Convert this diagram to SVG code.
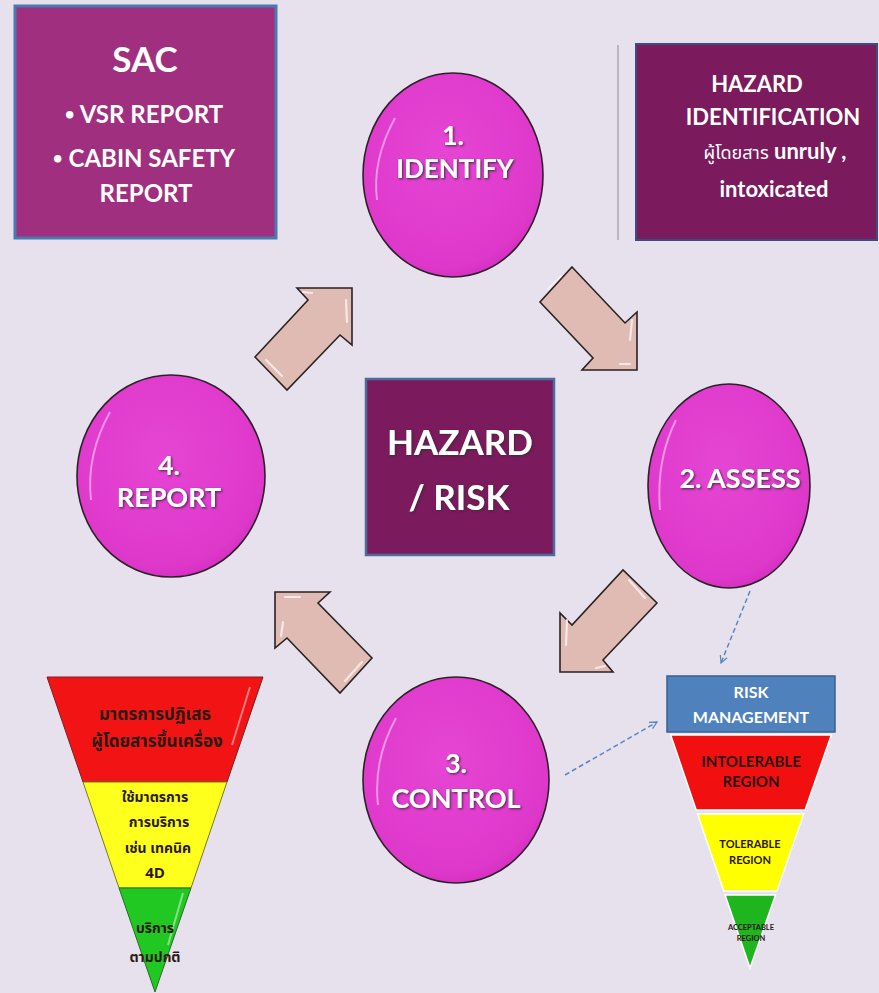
<svg xmlns="http://www.w3.org/2000/svg" width="879" height="993" viewBox="0 0 879 993">
<defs>
<radialGradient id="gCircle" cx="0.45" cy="0.4" r="0.65">
<stop offset="0" stop-color="#e645d4"/>
<stop offset="0.85" stop-color="#de38ca"/>
<stop offset="1" stop-color="#d02abc"/>
</radialGradient>
<filter id="shadow" x="-10%" y="-20%" width="130%" height="150%">
<feDropShadow dx="1.2" dy="1.2" stdDeviation="0.8" flood-color="#3a2a3a" flood-opacity="0.9"/>
</filter>
<marker id="openArrow" viewBox="0 0 10 10" refX="9" refY="5" markerWidth="9" markerHeight="9" orient="auto" markerUnits="userSpaceOnUse">
<path d="M1,1 L9,5 L1,9" fill="none" stroke="#5b87c0" stroke-width="1.4"/>
</marker>
</defs>
<style>
.bg{fill:#e7e1ed}
.circle{fill:url(#gCircle);stroke:#2b2228;stroke-width:1.6}
.ctext{font-family:Lato,"Open Sans",sans-serif;font-weight:700;fill:#ffffff;text-anchor:middle;filter:url(#shadow)}
.btext{font-family:Lato,"Open Sans",sans-serif;font-weight:700;fill:#ffffff;text-anchor:middle}
.thai{font-family:"Noto Sans Thai","Noto Sans","DejaVu Sans",sans-serif}
.bullet{font-size:17px}
.arrow{fill:#dfbbb3;stroke:#2a2222;stroke-width:1.6;stroke-linejoin:miter}
.hl{fill:none;stroke:#fbeeee;stroke-width:2.2;stroke-linecap:round;opacity:0.85}
.dash{fill:none;stroke:#5b87c0;stroke-width:1.5;stroke-dasharray:5 3}
.dtext{font-family:Lato,"Open Sans",sans-serif;font-weight:700;fill:#2a1414;text-anchor:middle}
.ltext{font-family:"Noto Sans Thai","Noto Sans","DejaVu Sans",sans-serif;font-weight:700;fill:#2a1a14;text-anchor:middle}
</style>
<rect class="bg" x="0" y="0" width="879" height="993"/>

<g id="sac">
<rect x="15" y="6" width="261" height="232" fill="#a0307f" stroke="#4a78b0" stroke-width="3"/>
<text class="btext" x="145" y="72" font-size="35">SAC</text>
<text class="btext" x="144" y="123" font-size="24"><tspan class="bullet" dy="-3">•</tspan><tspan dy="3"> VSR REPORT</tspan></text>
<text class="btext" x="144" y="167" font-size="24"><tspan class="bullet" dy="-3">•</tspan><tspan dy="3"> CABIN SAFETY</tspan></text>
<text class="btext" x="146" y="202" font-size="24">REPORT</text>
</g>

<g id="hazard-identification">
<line x1="618" y1="45" x2="618" y2="240" stroke="#9a9aa2" stroke-width="1.2"/>
<rect x="636" y="44" width="241" height="196" fill="#7b1a5c" stroke="#3d4c7e" stroke-width="2"/>
<text class="btext" x="757" y="92" font-size="22">HAZARD</text>
<text class="btext" x="773" y="125" font-size="22">IDENTIFICATION</text>
<text class="btext" x="775" y="159" font-size="22"><tspan class="thai" font-weight="400" font-size="18">ผู้โดยสาร</tspan>  unruly ,</text>
<text class="btext" x="774" y="197" font-size="22">intoxicated</text>
</g>

<g id="connectors">
<g id="arrow-4-1">
<polygon class="arrow" points="255,357 308,300 297,288 352,288 352,345 340,335 287,390"/>
<path class="hl" d="M266,360 L282,376 M303,292 L312,293 M346,300 L347,322"/>
</g>
<g id="arrow-1-2">
<polygon class="arrow" points="572,267 625,323 637,312 637,370 582,370 593,358 540,302"/>
<path class="hl" d="M561,276 L548,289 M620,364 L630,364 M632,320 L630,340"/>
</g>
<g id="arrow-2-3">
<polygon class="arrow" points="657,603 603,660 613,672 560,672 560,613 572,625 623,570"/>
<path class="hl" d="M629,580 L645,598 M567,620 L566,645 M596,668 L605,666"/>
</g>
<g id="arrow-3-4">
<polygon class="arrow" points="372,658 318,603 330,592 275,592 275,648 287,638 340,693"/>
<path class="hl" d="M285,597 L300,597 M283,622 L281,636 M362,662 L345,681"/>
</g>
<path class="dash" d="M750,591 L721,663" marker-end="url(#openArrow)"/>
<path class="dash" d="M565,775 L657,722" marker-end="url(#openArrow)"/>
</g>

<g id="identify">
<ellipse class="circle" cx="453" cy="175" rx="90" ry="102"/>
<path d="M377,200 Q372,160 395,118" fill="none" stroke="#f7b8ef" stroke-width="2" opacity="0.7"/>
<text class="ctext" x="453" y="145" font-size="27">1.</text>
<text class="ctext" x="455" y="178" font-size="26">IDENTIFY</text>
</g>

<g id="assess">
<ellipse class="circle" cx="729" cy="486" rx="81" ry="102"/>
<path d="M660,510 Q656,460 676,420" fill="none" stroke="#f7b8ef" stroke-width="2" opacity="0.7"/>
<text class="ctext" x="740" y="488" font-size="27">2. ASSESS</text>
</g>

<g id="control">
<ellipse class="circle" cx="456" cy="780" rx="93" ry="103"/>
<path d="M378,805 Q373,760 396,718" fill="none" stroke="#f7b8ef" stroke-width="2" opacity="0.7"/>
<text class="ctext" x="456" y="773" font-size="27">3.</text>
<text class="ctext" x="456" y="808" font-size="27">CONTROL</text>
</g>

<g id="report">
<ellipse class="circle" cx="171" cy="476" rx="94" ry="101"/>
<path d="M91,500 Q86,455 110,412" fill="none" stroke="#f7b8ef" stroke-width="2" opacity="0.7"/>
<text class="ctext" x="169" y="475" font-size="27">4.</text>
<text class="ctext" x="169" y="507" font-size="27">REPORT</text>
</g>

<g id="hazard-risk">
<rect x="366" y="379" width="188" height="176" fill="#7b1a5c" stroke="#4a6d9c" stroke-width="2.5"/>
<text class="ctext" x="460" y="455" font-size="35">HAZARD</text>
<text class="ctext" x="459" y="510" font-size="35">/ RISK</text>
</g>

<g id="risk-management">
<rect x="667" y="676" width="168" height="56" fill="#4f81bd" stroke="#3a5f8c" stroke-width="1.5"/>
<text class="btext" x="751" y="698" font-size="16">RISK</text>
<text class="btext" x="751" y="723" font-size="16">MANAGEMENT</text>
<polygon points="670.7,735 831.3,735 805.1,810 696.2,810" fill="#f20f0f" stroke="#ffffff" stroke-width="1.5"/>
<polygon points="697.6,814 803.7,814 776.9,891 723.8,891" fill="#ffff00" stroke="#ffffff" stroke-width="1.5"/>
<polygon points="725.1,895 775.5,895 750,968" fill="#1fb51f" stroke="#ffffff" stroke-width="1.5"/>
<text class="dtext" x="751" y="767" font-size="15">INTOLERABLE</text>
<text class="dtext" x="751" y="787" font-size="15">REGION</text>
<text class="dtext" x="750" y="848" font-size="11">TOLERABLE</text>
<text class="dtext" x="750" y="864" font-size="11">REGION</text>
<text class="dtext" x="751" y="930" font-size="7.5">ACCEPTABLE</text>
<text class="dtext" x="751" y="941" font-size="7.5">REGION</text>
</g>

<g id="control-measures">
<polygon points="47,677 263,677 227,782 83,782" fill="#f21414" stroke="#7a2020" stroke-width="1"/>
<polygon points="83,782 227,782 191,888 119,888" fill="#ffff1e" stroke="#7a7a20" stroke-width="1"/>
<polygon points="119,888 191,888 155,992" fill="#22c822" stroke="#2a6a2a" stroke-width="1"/>
<path d="M250,687 L232,745 M183,893 L168,945" fill="none" stroke="#ffffff" stroke-width="2" opacity="0.45"/>
<text class="ltext" x="155" y="720" font-size="17">มาตรการปฏิเสธ</text>
<text class="ltext" x="157" y="747" font-size="17">ผู้โดยสารขึ้นเครื่อง</text>
<text class="ltext" x="155" y="802" font-size="14">ใช้มาตรการ</text>
<text class="ltext" x="159" y="827" font-size="14">การบริการ</text>
<text class="ltext" x="158" y="853" font-size="14">เช่น เทคนิค</text>
<text class="ltext" x="155" y="878" font-size="15" font-family="Lato,sans-serif">4D</text>
<text class="ltext" x="155" y="933" font-size="14">บริการ</text>
<text class="ltext" x="155" y="962" font-size="14">ตามปกติ</text>
</g>
</svg>
